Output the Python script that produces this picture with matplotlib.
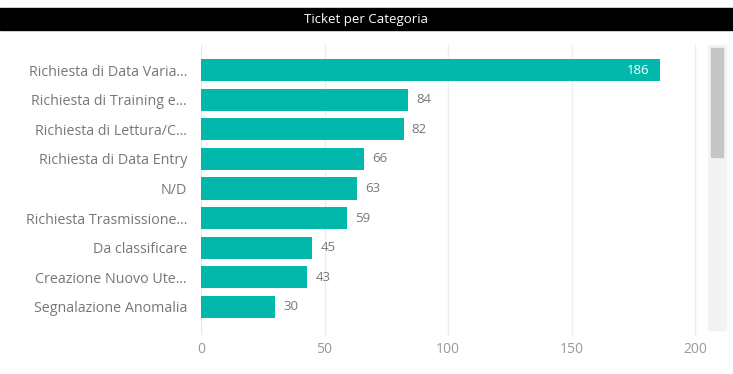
import matplotlib
matplotlib.use('Agg')
import matplotlib.pyplot as plt
from matplotlib.patches import Rectangle

categories = ['Richiesta di Data Varia...', 'Richiesta di Training e...',
              'Richiesta di Lettura/C...', 'Richiesta di Data Entry', 'N/D',
              'Richiesta Trasmissione...', 'Da classificare',
              'Creazione Nuovo Ute...', 'Segnalazione Anomalia']
values = [186, 84, 82, 66, 63, 59, 45, 43, 30]
xticks = [0, 50, 100, 150, 200]

teal = '#01B8AA'
grey = '#777777'
plt.rcParams['font.family'] = ['Open Sans', 'DejaVu Sans']

fig = plt.figure(figsize=(7.33, 3.74), dpi=100)
W, H = 733, 374

def fx(px):
    return px / W

def fy(py):
    return 1 - py / H

# title bar
fig.patches.append(Rectangle((0, fy(30)), 1, fy(8) - fy(30), transform=fig.transFigure,
                             color='black', zorder=0))
fig.text(0.5, (fy(8) + fy(30)) / 2, 'Ticket per Categoria', color='white',
         ha='center', va='center', fontsize=9.5)

ax = fig.add_axes([fx(201), fy(335), fx(695) - fx(201), fy(45) - fy(335)])
y = list(range(len(categories)))
ax.barh(y, values, height=0.75, color=teal, zorder=2)
ax.set_ylim(8.95, -0.85)
ax.set_xlim(0, 200)
ax.set_yticks(y)
ax.set_yticklabels(categories, fontsize=10.3, color=grey)
ax.set_xticks(xticks)
ax.set_xticklabels([str(t) for t in xticks], fontsize=10, color='#999999')
ax.tick_params(length=0, pad=10, axis='y')
ax.tick_params(length=0, pad=5, axis='x')
for s in ax.spines.values():
    s.set_visible(False)
ax.axvline(0, color='#e6e6e6', lw=1, zorder=1)
for t in xticks[1:]:
    ax.axvline(t, color='#eeeeee', lw=1, zorder=1, clip_on=False)

for yi, v in zip(y, values):
    if v > 150:
        ax.annotate(str(v), (v, yi), xytext=(-8, 0), textcoords='offset points',
                    ha='right', va='center', color='white', fontsize=9.5)
    else:
        ax.annotate(str(v), (v, yi), xytext=(6, 0), textcoords='offset points',
                    ha='left', va='center', color=grey, fontsize=9.5)

# scrollbar
fig.patches.append(Rectangle((fx(708), fy(330)), fx(726) - fx(708), fy(45) - fy(330),
                             transform=fig.transFigure, color='#f3f3f3', zorder=0))
fig.patches.append(Rectangle((fx(711), fy(157)), fx(723) - fx(711), fy(48) - fy(157),
                             transform=fig.transFigure, color='#c6c6c6', zorder=1))

fig.savefig('out.png', dpi=100)
